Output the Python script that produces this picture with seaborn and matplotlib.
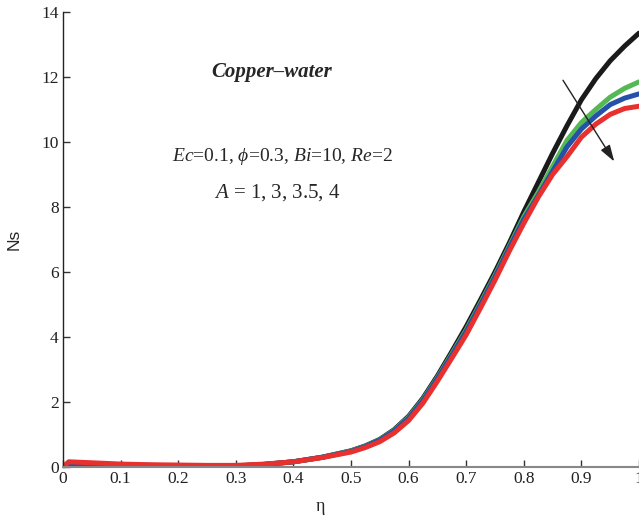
import matplotlib
matplotlib.use("Agg")
import matplotlib.pyplot as plt
import seaborn as sns
import pandas as pd

eta = [0.0, 0.01, 0.05, 0.1, 0.15, 0.2, 0.25, 0.3, 0.35, 0.4, 0.45, 0.5, 0.525, 0.55, 0.575,
       0.6, 0.625, 0.65, 0.675, 0.7, 0.725, 0.75, 0.775, 0.8, 0.825, 0.85, 0.875,
       0.9, 0.925, 0.95, 0.975, 1.0]

ns_A1 = [0.0, 0.03, 0.03, 0.03, 0.03, 0.02, 0.02, 0.03, 0.08, 0.16, 0.3, 0.5, 0.65, 0.85, 1.15,
         1.56, 2.12, 2.8, 3.55, 4.32, 5.15, 6.0, 6.9, 7.85, 8.75, 9.65, 10.5,
         11.3, 11.95, 12.5, 12.95, 13.35]
ns_A3 = [0.0, 0.05, 0.05, 0.05, 0.04, 0.03, 0.03, 0.03, 0.08, 0.16, 0.3, 0.49, 0.64, 0.84, 1.13,
         1.53, 2.08, 2.75, 3.48, 4.22, 5.05, 5.9, 6.8, 7.7, 8.45, 9.25, 10.05,
         10.6, 11.0, 11.38, 11.65, 11.85]
ns_A35 = [0.0, 0.08, 0.07, 0.06, 0.05, 0.04, 0.03, 0.03, 0.08, 0.16, 0.3, 0.48, 0.63, 0.83, 1.11,
          1.5, 2.05, 2.72, 3.44, 4.17, 5.0, 5.85, 6.75, 7.62, 8.35, 9.1, 9.85,
          10.4, 10.8, 11.15, 11.35, 11.48]
ns_A4 = [0.0, 0.16, 0.13, 0.09, 0.07, 0.06, 0.05, 0.05, 0.09, 0.16, 0.29, 0.46, 0.6, 0.78, 1.05,
         1.43, 1.97, 2.64, 3.35, 4.07, 4.9, 5.75, 6.65, 7.5, 8.3, 9.0, 9.55,
         10.15, 10.55, 10.85, 11.03, 11.1]

a_labels = ["1", "3", "3.5", "4"]
colors = ["#1a1a1a", "#55b855", "#2352a8", "#e8302f"]

x_ticks = [0, 0.1, 0.2, 0.3, 0.4, 0.5, 0.6, 0.7, 0.8, 0.9, 1.0]
x_ticklabels = ["0", "0.1", "0.2", "0.3", "0.4", "0.5", "0.6", "0.7", "0.8", "0.9", "1"]
y_ticks = [0, 2, 4, 6, 8, 10, 12, 14]

rows = []
for lab, vals in zip(a_labels, [ns_A1, ns_A3, ns_A35, ns_A4]):
    for e, v in zip(eta, vals):
        rows.append({"eta": e, "Ns": v, "A": lab})
df = pd.DataFrame(rows)

sns.set_style("ticks")
plt.rcParams["mathtext.fontset"] = "custom"
plt.rcParams["mathtext.rm"] = "Liberation Serif"
plt.rcParams["mathtext.it"] = "Liberation Serif:italic"
plt.rcParams["mathtext.bf"] = "Liberation Serif:bold"

fig = plt.figure(figsize=(6.39, 5.21), dpi=100)
ax = fig.add_axes([63 / 639, 54 / 521, 576 / 639, 455 / 521])

sns.lineplot(data=df, x="eta", y="Ns", hue="A", hue_order=a_labels, palette=colors,
             linewidth=3.6, legend=False, ax=ax, sort=False)
for ln in ax.lines:
    ln.set_solid_joinstyle("round")
    ln.set_solid_capstyle("round")

ax.set_xlim(0, 1)
ax.set_ylim(0, 14)
ax.set_xticks(x_ticks)
ax.set_xticklabels(x_ticklabels, family="Liberation Serif", fontsize=12.5, color="#222222")
ax.set_yticks(y_ticks)
ax.set_yticklabels([str(v) for v in y_ticks], family="Liberation Serif", fontsize=12.5, color="#222222")
ax.tick_params(direction="in", length=5, width=1, colors="#333333", pad=3)
for t in ax.get_xticklabels() + ax.get_yticklabels():
    t.set_color("#222222")

for s in ["top", "right"]:
    ax.spines[s].set_visible(False)
ax.spines["left"].set_color("#222222")
ax.spines["bottom"].set_color("#888888")
ax.spines["left"].set_linewidth(1.0)
ax.spines["bottom"].set_linewidth(1.5)

ax.set_xlabel("η", family="Liberation Serif", fontsize=13)
ax.xaxis.set_label_coords((320 - 63) / 576, -0.068)
ax.set_ylabel("Ns", family="Liberation Sans", fontsize=12.5, labelpad=14)

ax.text(0.363, 12.15, "Copper\u2013water", family="Liberation Serif", style="italic",
        weight="bold", fontsize=15, ha="center", va="center")
ax.text(0.381, 9.54, r"$Ec$=0.1, $\phi$=0.3, $Bi$=10, $Re$=2", family="Liberation Serif",
        fontsize=14, ha="center", va="center")
ax.text(0.372, 8.46, r"$A$ = 1, 3, 3.5, 4", family="Liberation Serif",
        fontsize=15, ha="center", va="center")

ax.annotate("", xy=(0.957, 9.4), xytext=(0.868, 11.9),
            arrowprops=dict(arrowstyle="-|>,head_length=1.0,head_width=0.32", color="#222222",
                            lw=1.0, shrinkA=0, shrinkB=0))

fig.savefig("out.png", dpi=100)
